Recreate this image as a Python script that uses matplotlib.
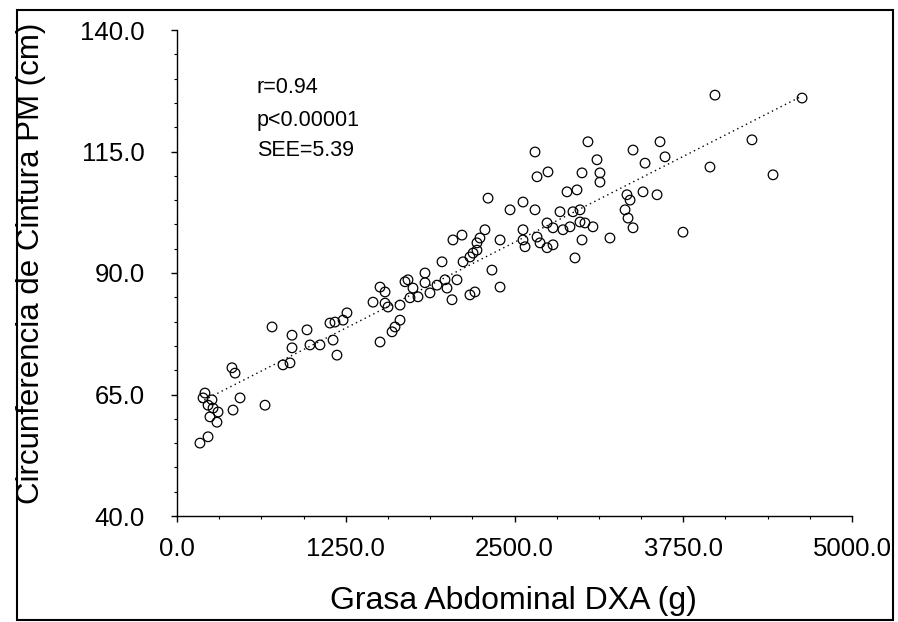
import matplotlib
matplotlib.use("Agg")
import matplotlib.pyplot as plt
import matplotlib.patches as mpatches
from matplotlib.ticker import FixedLocator, MultipleLocator, FormatStrFormatter
import numpy as np

plt.rcParams['font.family'] = ['Liberation Sans', 'DejaVu Sans']

# Grasa abdominal DXA (g)
grasa = [170, 230, 207, 193, 230, 267, 244, 296, 304, 259,
         415, 467, 652, 407, 430, 704, 785, 837, 852, 852,
         963, 985, 1059, 1133, 1156, 1185, 1170, 1230, 1259, 1452,
         1504, 1541, 1541, 1563, 1652, 1711, 1726, 1785, 1837, 1837,
         1874, 1926, 1985, 2000, 2074, 2037, 2170, 2207, 1652, 1615,
         1593, 1504, 1963, 2119, 2193, 2222, 2044, 2111, 1748, 2652,
         2667, 2748, 3000, 3111, 3133, 3133, 2889, 2963, 2304, 2467,
         2563, 2652, 2837, 2933, 2985, 2741, 2785, 2859, 2911, 2985,
         3022, 3081, 2563, 2563, 2578, 2667, 2689, 2741, 2785, 3000,
         3207, 2948, 2393, 2281, 2244, 2222, 2170, 2333, 2393, 3044,
         3578, 3378, 3467, 3615, 3948, 3333, 3356, 3452, 3556, 3319,
         3341, 3378, 3748, 3985, 4630, 4259, 4415, 1689]

# Circunferencia de cintura PM (cm)
cintura = [55.0, 56.3, 65.3, 64.3, 62.8, 62.2, 60.4, 59.3, 61.4, 63.9,
           61.8, 64.3, 62.8, 70.5, 69.4, 78.9, 71.1, 71.5, 77.2, 74.6,
           78.3, 75.2, 75.2, 79.7, 76.2, 73.1, 79.9, 80.3, 81.8, 84.0,
           87.1, 86.1, 83.8, 83.0, 83.4, 88.6, 84.9, 85.1, 90.0, 88.0,
           85.9, 87.5, 88.6, 86.9, 88.6, 84.5, 85.5, 86.1, 80.3, 78.9,
           77.9, 75.8, 92.3, 92.3, 94.1, 96.2, 96.8, 97.8, 86.9, 114.9,
           109.8, 110.8, 110.6, 113.3, 110.6, 108.7, 106.7, 107.1, 105.4, 103.0,
           104.6, 103.0, 102.6, 102.6, 103.0, 100.3, 99.3, 98.9, 99.5, 100.5,
           100.3, 99.5, 98.9, 96.8, 95.4, 97.4, 96.2, 95.2, 95.8, 96.8,
           97.2, 93.1, 96.8, 98.9, 97.2, 94.7, 93.3, 90.6, 87.1, 117.0,
           117.0, 115.3, 112.6, 113.9, 111.8, 106.1, 105.0, 106.7, 106.1, 103.0,
           101.3, 99.3, 98.4, 126.6, 126.0, 117.4, 110.2, 88.2]

# regression line
intercepto = 61.0
pendiente = 0.01413

x_ticks = [0, 1250, 2500, 3750, 5000]
y_ticks = [40, 65, 90, 115, 140]

stats_lines = ["r=0.94", "p<0.00001", "SEE=5.39"]

W, H = 898, 622
fig = plt.figure(figsize=(W / 100, H / 100), dpi=100)
ax = fig.add_axes([177 / W, 1 - 516 / H, (852 - 177) / W, (516 - 30) / H])

ax.scatter(grasa, cintura, s=48, facecolors='none', edgecolors='black',
           linewidths=0.9, zorder=3, clip_on=False)

xl = np.array([min(grasa), max(grasa)])
ax.plot(xl, intercepto + pendiente * xl, color='black', linestyle=(0, (1, 2.5)),
        linewidth=1.0, zorder=2)

ax.set_xlim(0, 5000)
ax.set_ylim(40, 140)
ax.xaxis.set_major_locator(FixedLocator(x_ticks))
ax.xaxis.set_minor_locator(MultipleLocator(312.5))
ax.yaxis.set_major_locator(FixedLocator(y_ticks))
ax.yaxis.set_minor_locator(MultipleLocator(5))
ax.xaxis.set_major_formatter(FormatStrFormatter('%.1f'))
ax.yaxis.set_major_formatter(FormatStrFormatter('%.1f'))

for side in ('top', 'right'):
    ax.spines[side].set_visible(False)
for side in ('left', 'bottom'):
    ax.spines[side].set_linewidth(1.0)

ax.tick_params(axis='both', which='major', direction='out', length=4, width=1,
               labelsize=18.5, colors='black')
ax.tick_params(axis='both', which='minor', direction='out', length=2.5, width=0.8)
ax.tick_params(axis='x', which='major', pad=11)
ax.tick_params(axis='y', which='major', pad=19)

ax.set_xlabel('Grasa Abdominal DXA (g)', fontsize=23)
ax.set_ylabel('Circunferencia de Cintura PM (cm)', fontsize=22.5)
ax.xaxis.label.set_verticalalignment('center')
ax.yaxis.label.set_verticalalignment('center')
ax.xaxis.set_label_coords((513 - 177) / 675, -(601 - 516) / 486)
ax.yaxis.set_label_coords(-(177 - 31) / 675, (516 - 263) / 486)

ys = [0.881, 0.813, 0.753]
for txt, yy in zip(stats_lines, ys):
    ax.text(0.1185, yy, txt, transform=ax.transAxes, fontsize=15.5,
            ha='left', va='center')

# outer frame
fig.patches.append(mpatches.Rectangle((17 / W, 1 - 620 / H), (893 - 17) / W,
                                      (620 - 10) / H, transform=fig.transFigure,
                                      fill=False, edgecolor='black', linewidth=1.5))

fig.savefig('out.png', dpi=100)
